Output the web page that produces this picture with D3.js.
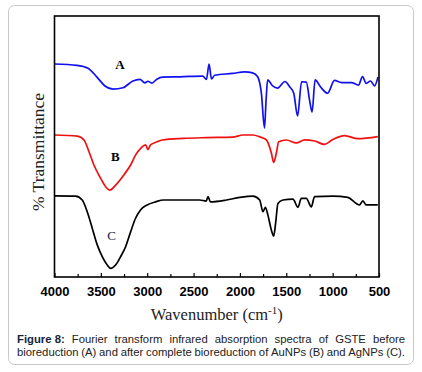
<!DOCTYPE html>
<html>
<head>
<meta charset="utf-8">
<script src="https://cdn.jsdelivr.net/npm/d3@7"></script>
<style>
  body { margin: 0; background: #fff; }
  svg { display: block; }
</style>
</head>
<body>
<div id="chart"></div>
<script>
// wavenumber (cm-1) and % transmittance (arbitrary offset units)
const waveA = [4000, 3758, 3639, 3542, 3456, 3370, 3262, 3154, 3079, 3025, 2993, 2950, 2896, 2834, 2649, 2401, 2361, 2333, 2307, 2272, 2078, 1949, 1863, 1809, 1769, 1735, 1718, 1701, 1647, 1593, 1515, 1462, 1420, 1378, 1335, 1284, 1249, 1222, 1189, 1130, 1055, 980, 904, 799, 720, 678, 638, 591, 548, 511];
const transA = [81.6, 81.1, 80.0, 76.6, 73.2, 72.0, 72.5, 75.1, 75.7, 74.4, 75.0, 74.3, 75.8, 76.6, 76.7, 77.0, 75.7, 81.6, 75.9, 77.3, 78.0, 78.6, 78.2, 76.7, 70.5, 57.1, 67.8, 75.5, 73.2, 72.4, 74.9, 72.8, 70.5, 61.7, 74.8, 74.7, 67.8, 63.2, 75.5, 72.8, 70.4, 75.3, 74.5, 74.5, 73.5, 76.8, 74.2, 75.1, 73.2, 76.6];

const waveB = [4000, 3754, 3682, 3628, 3575, 3502, 3449, 3402, 3341, 3252, 3179, 3126, 3065, 3018, 2993, 2964, 2893, 2839, 2613, 2361, 2078, 1967, 1862, 1787, 1715, 1661, 1636, 1607, 1582, 1499, 1392, 1302, 1195, 1087, 998, 872, 728, 513];
const transB = [54.4, 54.0, 52.5, 48.0, 42.9, 37.8, 34.6, 33.3, 35.2, 39.1, 42.9, 46.7, 49.5, 50.6, 48.9, 50.6, 51.8, 52.5, 53.1, 53.4, 53.6, 54.4, 54.4, 53.7, 52.5, 47.5, 43.9, 47.5, 51.8, 52.5, 51.4, 52.5, 52.1, 50.8, 52.7, 54.2, 53.0, 53.8];

const waveC = [4000, 3772, 3701, 3647, 3593, 3539, 3485, 3431, 3395, 3341, 3287, 3233, 3179, 3126, 3072, 3001, 2910, 2821, 2433, 2363, 2344, 2318, 2146, 2002, 1859, 1787, 1751, 1726, 1698, 1661, 1636, 1615, 1590, 1536, 1428, 1374, 1338, 1284, 1230, 1195, 998, 836, 746, 711, 674, 638, 513];
const transC = [31.1, 31.0, 29.5, 25.0, 18.7, 12.3, 7.8, 4.6, 3.3, 4.6, 7.8, 11.6, 17.3, 22.5, 25.7, 27.6, 28.8, 29.5, 29.5, 29.1, 30.8, 28.8, 29.5, 30.5, 31.0, 29.5, 25.0, 26.7, 23.7, 18.0, 15.7, 20.6, 28.2, 29.5, 29.8, 26.7, 30.1, 30.1, 26.9, 30.8, 31.0, 30.5, 28.2, 27.6, 29.2, 27.6, 27.6];

const seriesNames = ["A", "B", "C"];
const seriesColors = ["#1010f0", "#f01010", "#000000"];
// label anchor points in data units
const labelWave = [3295, 3345, 3385];
const labelTrans = [80.8, 45.6, 15.3];

const majorTicks = [4000, 3500, 3000, 2500, 2000, 1500, 1000, 500];
const minorTicks = [3750, 3250, 2750, 2250, 1750, 1250, 750];

const captionBold = "Figure 8:";
const captionLines = [
  "Fourier transform infrared absorption spectra of GSTE before",
  "bioreduction (A) and after complete bioreduction of AuNPs (B) and AgNPs (C)."
];

const W = 422, H = 372;
const margin = { left: 54.5, top: 16, right: 43, bottom: 95 };
const plotW = W - margin.left - margin.right;
const plotH = H - margin.top - margin.bottom;

const svg = d3.select("#chart").append("svg").attr("width", W).attr("height", H);

// outer rounded card
svg.append("rect")
  .attr("x", 8.5).attr("y", 5.5).attr("width", 405).attr("height", 359)
  .attr("rx", 6).attr("fill", "#fff").attr("stroke", "#c8c8c8").attr("stroke-width", 1);

const g = svg.append("g").attr("transform", `translate(${margin.left},${margin.top})`);

const x = d3.scaleLinear().domain([4000, 500]).range([0, plotW]);
const y = d3.scaleLinear().domain([0, 100]).range([plotH, 0]);

const line = d3.line()
  .x(d => x(d[0]))
  .y(d => y(d[1]))
  .curve(d3.curveMonotoneX);

const series = [
  d3.zip(waveA, transA),
  d3.zip(waveB, transB),
  d3.zip(waveC, transC)
];

series.forEach((s, i) => {
  g.append("path")
    .datum(s)
    .attr("fill", "none")
    .attr("stroke", seriesColors[i])
    .attr("stroke-width", 1.7)
    .attr("stroke-linejoin", "round")
    .attr("d", line);
});

// curve labels
seriesNames.forEach((n, i) => {
  g.append("text")
    .attr("x", x(labelWave[i]))
    .attr("y", y(labelTrans[i]))
    .attr("text-anchor", "middle")
    .attr("dominant-baseline", "middle")
    .attr("font-family", "Liberation Serif, Times New Roman, serif")
    .attr("font-size", 13)
    .attr("font-weight", i === 2 ? "normal" : "bold")
    .attr("fill", i === 2 ? "#1a2440" : "#000")
    .text(n);
});

// frame
g.append("rect")
  .attr("width", plotW).attr("height", plotH)
  .attr("fill", "none").attr("stroke", "#000").attr("stroke-width", 1.6);

// bottom axis: labels + inward ticks
const xAxis = d3.axisBottom(x).tickValues(majorTicks).tickSize(-4).tickPadding(10).tickFormat(d3.format("d"));
const ax = g.append("g").attr("transform", `translate(0,${plotH})`).call(xAxis);
ax.select(".domain").remove();
ax.selectAll(".tick line").attr("stroke", "#000").attr("stroke-width", 1.2);
ax.selectAll("text")
  .attr("font-family", "Liberation Sans, Arial, sans-serif")
  .attr("font-size", 13)
  .attr("font-weight", "bold")
  .attr("fill", "#000");

const minorAxis = d3.axisBottom(x).tickValues(minorTicks).tickSize(-3).tickFormat("");
const mx = g.append("g").attr("transform", `translate(0,${plotH})`).call(minorAxis);
mx.select(".domain").remove();
mx.selectAll(".tick line").attr("stroke", "#000").attr("stroke-width", 1.2);

// axis titles
const xt = svg.append("text")
  .attr("x", margin.left + plotW / 2)
  .attr("y", 320)
  .attr("text-anchor", "middle")
  .attr("font-family", "Liberation Serif, Times New Roman, serif")
  .attr("font-size", 16.5)
  .attr("fill", "#222");
xt.append("tspan").text("Wavenumber (cm");
xt.append("tspan").attr("dy", -6).attr("font-size", 11).text("-1");
xt.append("tspan").attr("dy", 6).text(")");

svg.append("text")
  .attr("transform", `translate(44,${margin.top + 136}) rotate(-90)`)
  .attr("text-anchor", "middle")
  .attr("font-family", "Liberation Serif, Times New Roman, serif")
  .attr("font-size", 17.5)
  .attr("fill", "#222")
  .text("% Transmittance");

// justified caption
const capLeft = 17, capRight = 405;
const capBaselines = [342.5, 355.5];
const capFont = "Liberation Sans, Arial, sans-serif";

captionLines.forEach((lineText, li) => {
  const words = lineText.split(" ").map(w => ({ text: w, bold: false }));
  if (li === 0) words.unshift({ text: captionBold, bold: true });
  const nodes = words.map(w => svg.append("text")
    .attr("y", capBaselines[li])
    .attr("font-family", capFont)
    .attr("font-size", 11.3)
    .attr("font-weight", w.bold ? "bold" : "normal")
    .attr("fill", w.bold ? "#14243c" : "#222")
    .text(w.text));
  const widths = nodes.map(n => n.node().getComputedTextLength());
  const total = d3.sum(widths);
  const gap = (capRight - capLeft - total) / (nodes.length - 1);
  let cx = capLeft;
  nodes.forEach((n, i) => {
    n.attr("x", cx);
    cx += widths[i] + gap;
  });
});
</script>
</body>
</html>
